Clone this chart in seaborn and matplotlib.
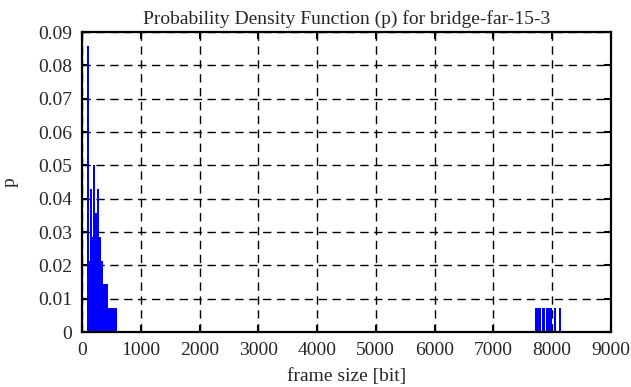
import matplotlib
matplotlib.use("Agg")
import matplotlib.pyplot as plt
import seaborn as sns

# frame sizes [bit] and their probability p (count / 140 frames)
frame_size = [97, 125, 153, 182, 209, 243, 277, 309, 332,
              357, 391, 425, 459, 493, 527, 561, 578,
              7721, 7755, 7789, 7840, 7857, 7908, 7947, 7988, 8042, 8129]
p = [0.0857, 0.0214, 0.0429, 0.0286, 0.0500, 0.0357, 0.0429, 0.0286, 0.0214,
     0.0143, 0.0143, 0.0143, 0.0071, 0.0071, 0.0071, 0.0071, 0.0071,
     0.0071, 0.0071, 0.0071, 0.0071, 0.0071, 0.0071, 0.0071, 0.0071, 0.0071, 0.0071]

x_ticks = list(range(0, 9001, 1000))
y_ticks = [0, 0.01, 0.02, 0.03, 0.04, 0.05, 0.06, 0.07, 0.08, 0.09]
y_labels = ["0", "0.01", "0.02", "0.03", "0.04", "0.05", "0.06", "0.07", "0.08", "0.09"]

sns.set_theme(style="white")
plt.rcParams["font.family"] = ["Liberation Serif", "DejaVu Serif"]

fig = plt.figure(figsize=(6.31, 3.87), dpi=100)
ax = fig.add_axes([0.130, 0.142, 0.838, 0.775])

ax.bar(frame_size, p, width=34, color="#0000ff", linewidth=0, zorder=3)

ax.set_xlim(0, 9000)
ax.set_ylim(0, 0.09)
ax.set_xticks(x_ticks)
ax.set_xticklabels([str(t) for t in x_ticks], fontsize=14)
ax.set_yticks(y_ticks)
ax.set_yticklabels(y_labels, fontsize=14)

ax.grid(True, color="black", linestyle=(0, (6, 4)), linewidth=1.0, zorder=1)
ax.tick_params(direction="in", length=5, width=1.5, color="black",
               top=True, right=True, bottom=True, left=True, pad=7)
for s in ax.spines.values():
    s.set_color("black")
    s.set_linewidth(1.6)
    s.set_zorder(4)

ax.set_title("Probability Density Function (p) for bridge-far-15-3", fontsize=14, pad=6)
ax.set_xlabel("frame size [bit]", fontsize=14, labelpad=7)
ax.set_ylabel("p", fontsize=14, labelpad=14)

fig.savefig("out.png", dpi=100)
